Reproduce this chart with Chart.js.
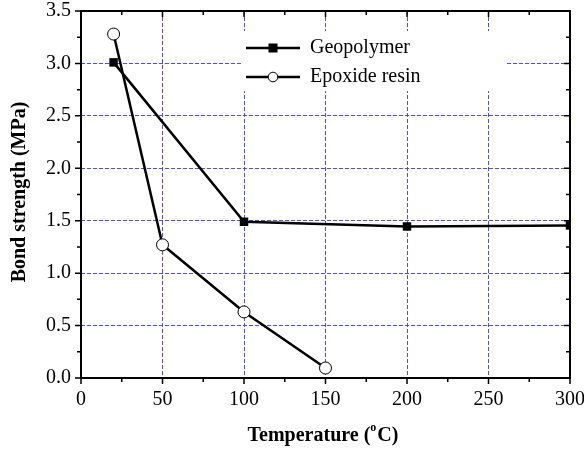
<!DOCTYPE html>
<html>
<head>
<meta charset="utf-8">
<script src="https://cdn.jsdelivr.net/npm/chart.js@4.4.0/dist/chart.umd.min.js"></script>
<style>
  html, body { margin: 0; padding: 0; background: #fff; }
  #wrap { width: 584px; height: 450px; }
</style>
</head>
<body>
<div id="wrap"><canvas id="grafico"></canvas></div>
<script>
// dados
var temp_geo = [20, 100, 200, 300];
var forca_geo = [3.01, 1.49, 1.445, 1.455];
var temp_epo = [20, 50, 100, 150];
var forca_epo = [3.28, 1.27, 0.63, 0.095];
var ticks_x = [0, 50, 100, 150, 200, 250, 300];
var ticks_y = [0, 0.5, 1.0, 1.5, 2.0, 2.5, 3.0, 3.5];
var nomes = ['Geopolymer', 'Epoxide resin'];

const fonte = '"Liberation Serif", "Times New Roman", serif';
const azul = 'rgb(80, 80, 215)';

function pontos(xs, ys) {
    const lista = [];
    for (let i = 0; i < xs.length; i++) {
        lista.push({ x: xs[i], y: ys[i] });
    }
    return lista;
}

// moldura, ticks menores e legenda
const moldura = {
    id: 'moldura',
    beforeDatasetsDraw(chart) {
        const ctx = chart.ctx;
        ctx.save();
        ctx.fillStyle = '#fff';
        ctx.fillRect(243, 31, 264, 60);
        ctx.restore();
    },
    afterDraw(chart) {
        const ctx = chart.ctx;
        const a = chart.chartArea;
        const sx = chart.scales.x;
        const sy = chart.scales.y;
        ctx.save();
        ctx.strokeStyle = '#000';
        ctx.lineWidth = 2;
        ctx.strokeRect(a.left, a.top, a.right - a.left, a.bottom - a.top);

        ctx.lineWidth = 1.5;
        ctx.beginPath();
        for (let v = 0; v <= 300; v += 25) {
            const px = sx.getPixelForValue(v);
            const len = (v % 50 === 0) ? 6 : 4;
            ctx.moveTo(px, a.bottom);
            ctx.lineTo(px, a.bottom + len);
            ctx.moveTo(px, a.top);
            ctx.lineTo(px, a.top + len);
        }
        for (let v = 0; v <= 3.5001; v += 0.25) {
            const py = sy.getPixelForValue(v);
            const len = (Math.round(v * 4) % 2 === 0) ? 6 : 4;
            ctx.moveTo(a.left, py);
            ctx.lineTo(a.left - len, py);
            ctx.moveTo(a.right, py);
            ctx.lineTo(a.right - len, py);
        }
        ctx.stroke();

        // legenda
        const linhas = [48, 77];
        chart.data.datasets.forEach(function (ds, i) {
            const y = linhas[i];
            ctx.strokeStyle = '#000';
            ctx.lineWidth = 2.5;
            ctx.beginPath();
            ctx.moveTo(246, y);
            ctx.lineTo(300, y);
            ctx.stroke();
            if (ds.pointStyle === 'rect') {
                ctx.fillStyle = '#000';
                ctx.fillRect(268.5, y - 4.5, 9, 9);
            } else {
                ctx.fillStyle = '#fff';
                ctx.lineWidth = 1;
                ctx.beginPath();
                ctx.arc(273, y, 4.8, 0, Math.PI * 2);
                ctx.fill();
                ctx.stroke();
            }
            ctx.fillStyle = '#000';
            ctx.font = '20px ' + fonte;
            ctx.textBaseline = 'middle';
            ctx.textAlign = 'left';
            ctx.fillText(ds.label, 310, y);
        });

        // titulos dos eixos
        ctx.textBaseline = 'middle';
        const t1 = 'Temperature (';
        const t2 = 'C)';
        ctx.font = 'bold 12px ' + fonte;
        const wo = ctx.measureText('o').width;
        ctx.font = 'bold 20px ' + fonte;
        const w1 = ctx.measureText(t1).width;
        const w2 = ctx.measureText(t2).width;
        let x0 = 323 - (w1 + wo + 1 + w2) / 2;
        ctx.textAlign = 'left';
        ctx.fillText(t1, x0, 436);
        ctx.font = 'bold 12px ' + fonte;
        ctx.fillText('o', x0 + w1, 428);
        ctx.font = 'bold 20px ' + fonte;
        ctx.fillText(t2, x0 + w1 + wo + 1, 436);

        ctx.translate(20, 192);
        ctx.rotate(-Math.PI / 2);
        ctx.textAlign = 'center';
        ctx.fillText('Bond strength (MPa)', 0, 0);
        ctx.restore();
    }
};

new Chart(document.getElementById('grafico'), {
    type: 'line',
    data: {
        datasets: [{
            label: nomes[0],
            data: pontos(temp_geo, forca_geo),
            borderColor: '#000',
            backgroundColor: '#000',
            borderWidth: 2.5,
            pointStyle: 'rect',
            pointRadius: 6,
            pointBorderWidth: 0,
            pointBackgroundColor: '#000'
        },
        {
            label: nomes[1],
            data: pontos(temp_epo, forca_epo),
            borderColor: '#000',
            backgroundColor: '#fff',
            borderWidth: 2.5,
            pointStyle: 'circle',
            pointRadius: 6,
            pointBorderWidth: 1,
            pointBorderColor: '#000',
            pointBackgroundColor: '#fff'
        }]
    },
    options: {
        responsive: true,
        maintainAspectRatio: false,
        animation: false,
        layout: { padding: { top: 11, right: 14, left: 0, bottom: 0 } },
        plugins: {
            legend: { display: false },
            tooltip: { enabled: false }
        },
        scales: {
            x: {
                type: 'linear',
                min: 0,
                max: 300,
                afterBuildTicks: function (scale) {
                    scale.ticks = ticks_x.map(function (v) { return { value: v }; });
                },
                afterFit: function (scale) {
                    scale.height = 72;
                    scale.paddingLeft = 0;
                    scale.paddingRight = 0;
                },
                ticks: {
                    padding: 10,
                    color: '#000',
                    font: { family: fonte, size: 20 }
                },
                grid: {
                    color: azul,
                    lineWidth: 1,
                    drawTicks: false
                },
                border: { display: false, dash: [4, 2] }
            },
            y: {
                min: 0,
                max: 3.5,
                afterBuildTicks: function (scale) {
                    scale.ticks = ticks_y.map(function (v) { return { value: v }; });
                },
                afterFit: function (scale) {
                    scale.width = 81;
                    scale.paddingTop = 0;
                    scale.paddingBottom = 0;
                },
                ticks: {
                    padding: 10,
                    color: '#000',
                    font: { family: fonte, size: 20 },
                    callback: function (v) { return Number(v).toFixed(1); }
                },
                grid: {
                    color: azul,
                    lineWidth: 1,
                    drawTicks: false
                },
                border: { display: false, dash: [4, 2] }
            }
        }
    },
    plugins: [moldura]
});
</script>
</body>
</html>
